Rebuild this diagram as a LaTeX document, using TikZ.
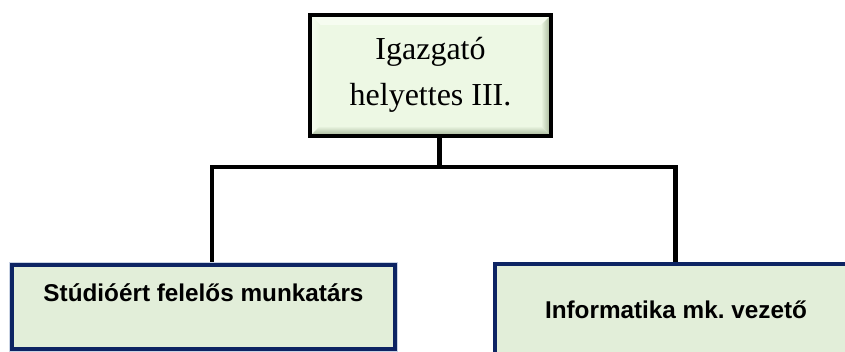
\documentclass[tikz,border=0pt]{standalone}
\usepackage{fontspec}
\setmainfont{Liberation Serif}
\newfontfamily\boxsans{Liberation Sans}
\frenchspacing
\begin{document}
\begin{tikzpicture}[x=1pt,y=-1pt,
  conn/.style={line width=4.5pt,black},
  unitbox/.style={draw=navyline,line width=4pt,fill=boxfill},
  unittext/.style={font=\boxsans\bfseries\fontsize{24.3}{28}\selectfont,text=black,inner sep=0pt},
  headtext/.style={font=\fontsize{32}{46}\selectfont,align=center,text=black,inner sep=0pt}]
\definecolor{navyline}{HTML}{0D2463}
\definecolor{boxfill}{HTML}{E2EED9}
\definecolor{headfill}{HTML}{EDF8E4}
\definecolor{bevlight}{HTML}{F6FCF0}
\definecolor{bevdark}{HTML}{A9B99C}
\definecolor{halo}{HTML}{C9D3E4}
\clip (0,0) rectangle (845,352);
\fill[white] (0,0) rectangle (845,352);

% head box with bevelled rim
\fill[headfill] (308,13) rectangle (553,138);
\fill[bevlight] (311,16) -- (550,16) -- (541,25) -- (320,25) -- cycle;
\shade[left color=bevlight,right color=headfill] (311,16) -- (320,25) -- (320,126) -- (311,135) -- cycle;
\shade[top color=headfill,bottom color=bevdark] (311,135) -- (320,126) -- (541,126) -- (550,135) -- cycle;
\shade[left color=headfill,right color=bevdark] (550,16) -- (550,135) -- (541,126) -- (541,25) -- cycle;
\draw[line width=4.5pt] (310,15) rectangle (551,136);
\node[headtext] (head) at (430.5,75) {Igazgató\\helyettes III.};
\coordinate (hb) at (439.5,138);

% unit boxes
\draw[halo,line width=6pt] (12,265) rectangle (395,349);
\draw[unitbox] (12,265) rectangle (395,349);
\node[unittext] (lefttext) at (203.5,293) {Stúdióért felelős munkatárs};
\draw[unitbox] (495,264) rectangle (860,370);
\node[unittext] (righttext) at (676,310) {Informatika mk. vezető};

% connectors
\coordinate (bus) at (439.5,167);
\coordinate (lcorner) at (212,167);
\coordinate (rcorner) at (675.5,167);
\coordinate (ltop) at (212,262);
\coordinate (rtop) at (675.5,262);
\draw[conn] (hb) -- (bus);
\draw[conn,line join=miter] (ltop) -- (lcorner) -- (rcorner) -- (rtop);
\end{tikzpicture}
\end{document}
